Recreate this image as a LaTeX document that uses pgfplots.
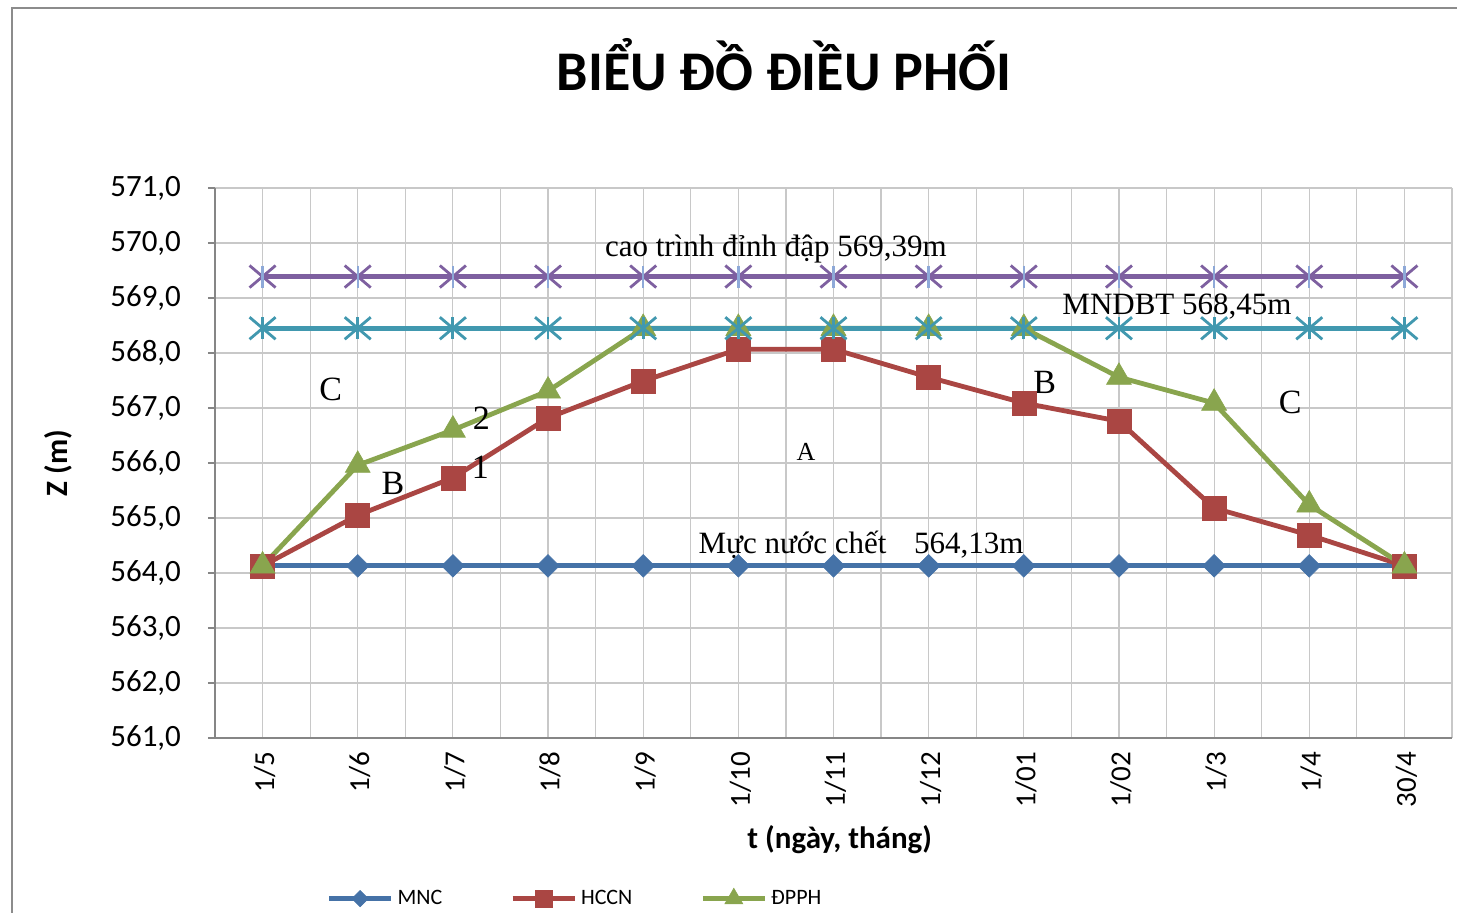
\documentclass[border=0pt]{standalone}
\usepackage{pgfplots}
\pgfplotsset{compat=1.18}
\usepackage{fontspec}
\setmainfont{Liberation Serif}
\newfontfamily\calibri{Carlito}
\definecolor{cBlue}{HTML}{4572A7}
\definecolor{cRed}{HTML}{AA4643}
\definecolor{cGreen}{HTML}{89A54E}
\definecolor{cPurple}{HTML}{7E60A0}
\definecolor{cCyan}{HTML}{4198AF}
\definecolor{cLight}{HTML}{8EA9D8}
\definecolor{gridGray}{HTML}{C8C8C8}
\definecolor{axisGray}{HTML}{868686}
\definecolor{frameGray}{HTML}{8C8C8C}
\begin{document}
\begin{tikzpicture}
\path[use as bounding box] (-107.5pt,-87pt) rectangle (621pt,369pt);
\draw[color=frameGray, line width=1.2pt] (-101.5pt,-300pt) rectangle (800pt,365pt);
\begin{axis}[
  scale only axis, width=618.5pt, height=275pt,
  xmin=-0.5, xmax=12.5, ymin=561, ymax=571,
  xtick={0,...,12},
  xticklabels={1/5,1/6,1/7,1/8,1/9,1/10,1/11,1/12,1/01,1/02,1/3,1/4,30/4},
  minor xtick={-0.5,0.5,...,12.5},
  ytick={561,...,571},
  xmajorgrids, xminorgrids, ymajorgrids,
  grid style={gridGray, line width=0.6pt},
  minor grid style={gridGray, line width=0.6pt},
  axis x line*=bottom, axis y line*=left,
  axis line style={axisGray, line width=0.8pt, -},
  x tick style={draw=none}, minor x tick style={draw=none},
  y tick style={axisGray, line width=0.8pt},
  tick align=outside, major tick length=3.5pt,
  /pgf/number format/assume math mode=true,
  y tick label style={/pgf/number format/.cd, fixed, fixed zerofill, precision=1, use comma, /tikz/.cd, xshift=-10pt},
  tick label style={font=\calibri\fontsize{15.5}{18}\selectfont},
  x tick label style={rotate=90, anchor=east, yshift=-1pt, font=\calibri\fontsize{14.5}{17}\selectfont},
  title={BIỂU ĐỒ ĐIỀU PHỐI},
  title style={at={(axis description cs:0.46,1)}, anchor=center, yshift=55.5pt, font=\calibri\bfseries\fontsize{28}{32}\selectfont},
  xlabel={t (ngày, tháng)},
  xlabel style={at={(axis description cs:0.505,-0.1855)}, anchor=center, font=\calibri\bfseries\fontsize{15.5}{18}\selectfont},
  ylabel={Z (m)},
  ylabel style={at={(axis description cs:-0.127,0.5)}, anchor=center, font=\calibri\bfseries\fontsize{15.5}{18}\selectfont},
  legend columns=3,
  legend style={draw=none, fill=none, at={(axis description cs:0.09,-0.292)}, anchor=west,
    font=\calibri\fontsize{11}{13}\selectfont, inner sep=0pt,
    /tikz/every even column/.append style={column sep=32pt}},
  legend image code/.code={\draw[mark repeat=2,mark phase=2,#1, every mark/.append style={scale=0.72}] plot coordinates {(0pt,0pt)(15.5pt,0pt)(31pt,0pt)};},
]
\addplot[cBlue, line width=2.4pt, mark=square*, mark size=4pt, mark options={rotate=45, line width=0.3pt, fill=cBlue}]
  coordinates {(0,564.13)(1,564.13)(2,564.13)(3,564.13)(4,564.13)(5,564.13)(6,564.13)(7,564.13)(8,564.13)(9,564.13)(10,564.13)(11,564.13)(12,564.13)};
\addlegendentry{MNC}
\addplot[cRed, line width=2.4pt, mark=square*, mark size=6pt, mark options={line width=0.3pt, fill=cRed}]
  coordinates {(0,564.13)(1,565.05)(2,565.73)(3,566.82)(4,567.49)(5,568.07)(6,568.07)(7,567.56)(8,567.09)(9,566.76)(10,565.18)(11,564.69)(12,564.13)};
\addlegendentry{HCCN}
\addplot[cGreen, line width=2.4pt, mark=triangle*, mark size=7.2pt, mark options={line width=0.3pt, fill=cGreen}]
  coordinates {(0,564.13)(1,565.96)(2,566.60)(3,567.31)(4,568.45)(5,568.45)(6,568.45)(7,568.45)(8,568.45)(9,567.56)(10,567.09)(11,565.24)(12,564.13)};
\addlegendentry{ĐPPH}
\addplot[cCyan, line width=2.4pt, mark=x, mark size=7.8pt, mark options={line width=1.4pt, xscale=1.18}, forget plot]
  coordinates {(0,568.45)(1,568.45)(2,568.45)(3,568.45)(4,568.45)(5,568.45)(6,568.45)(7,568.45)(8,568.45)(9,568.45)(10,568.45)(11,568.45)(12,568.45)};
\addplot[cCyan, only marks, mark=|, mark size=5.5pt, mark options={line width=1.4pt}, forget plot]
  coordinates {(0,568.45)(1,568.45)(2,568.45)(3,568.45)(4,568.45)(5,568.45)(6,568.45)(7,568.45)(8,568.45)(9,568.45)(10,568.45)(11,568.45)(12,568.45)};
\addplot[cPurple, line width=2.4pt, mark=x, mark size=7.8pt, mark options={line width=1.4pt, xscale=1.18}, forget plot]
  coordinates {(0,569.39)(1,569.39)(2,569.39)(3,569.39)(4,569.39)(5,569.39)(6,569.39)(7,569.39)(8,569.39)(9,569.39)(10,569.39)(11,569.39)(12,569.39)};
\addplot[cLight, only marks, mark=|, mark size=5.5pt, mark options={line width=1.2pt}, forget plot]
  coordinates {(0,569.39)(1,569.39)(2,569.39)(3,569.39)(4,569.39)(5,569.39)(6,569.39)(7,569.39)(8,569.39)(9,569.39)(10,569.39)(11,569.39)(12,569.39)};
\node[font=\fontsize{15.5}{18}\selectfont] at (axis cs:5.395,569.89) {cao trình đỉnh đập 569,39m};
\node[font=\fontsize{15.5}{18}\selectfont] at (axis cs:9.61,568.84) {MNDBT 568,45m};
\node[font=\fontsize{15.5}{18}\selectfont] at (axis cs:6.29,564.51) {Mực nước chết\hspace{10pt} 564,13m};
\node[font=\fontsize{17}{20}\selectfont] at (axis cs:0.715,567.33) {C};
\node[font=\fontsize{17}{20}\selectfont] at (axis cs:2.30,566.82) {2};
\node[font=\fontsize{17}{20}\selectfont] at (axis cs:2.29,565.93) {1};
\node[font=\fontsize{17}{20}\selectfont] at (axis cs:1.37,565.62) {B};
\node[font=\fontsize{13}{16}\selectfont] at (axis cs:5.71,566.20) {A};
\node[font=\fontsize{17}{20}\selectfont] at (axis cs:8.22,567.47) {B};
\node[font=\fontsize{17}{20}\selectfont] at (axis cs:10.80,567.11) {C};
\end{axis}
\end{tikzpicture}
\end{document}
